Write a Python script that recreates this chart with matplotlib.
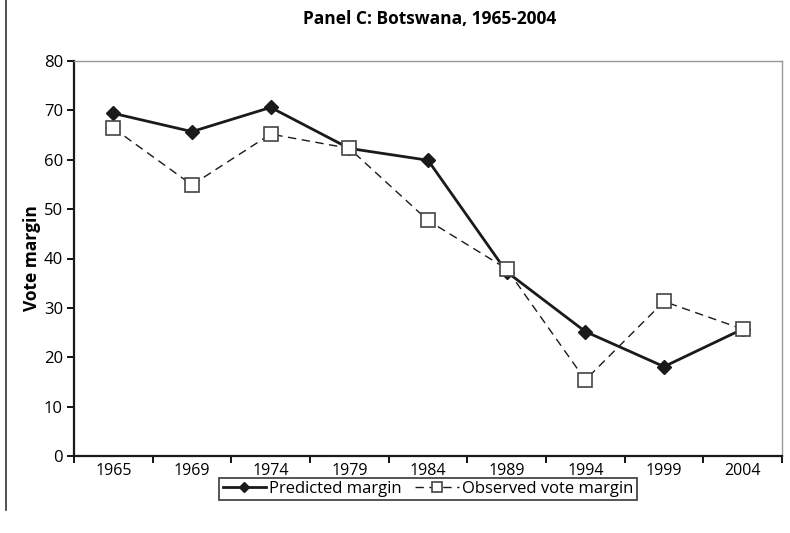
import numpy as np
import matplotlib
matplotlib.use("Agg")
import matplotlib.pyplot as plt
from matplotlib.lines import Line2D

years = ["1965", "1969", "1974", "1979", "1984", "1989", "1994", "1999", "2004"]
predicted = [69.4, 65.7, 70.6, 62.3, 59.9, 37.3, 25.2, 18.1, 25.7]
observed = [66.4, 54.9, 65.2, 62.3, 47.7, 37.9, 15.4, 31.3, 25.7]
yticks = [0, 10, 20, 30, 40, 50, 60, 70, 80]

plt.rcParams['font.family'] = ['Open Sans', 'DejaVu Sans']

fig = plt.figure(figsize=(7.9, 5.33), dpi=100)
ax = fig.add_axes([74 / 790, 77 / 533, 708 / 790, 395 / 533])

x = np.arange(len(years))
ax.plot(x, predicted, color="#1a1a1a", lw=2, marker="D", ms=7,
        mfc="#1a1a1a", mec="#1a1a1a", label="Predicted margin", zorder=3)
ax.plot(x, observed, color="#1a1a1a", lw=1, ls=(0, (6, 4)), marker="s", ms=10,
        mfc="white", mec="#444444", mew=1.2, label="Observed vote margin", zorder=4)

ax.set_xlim(-0.5, len(years) - 0.5)
ax.set_ylim(0, 80)
ax.set_yticks(yticks)
ax.set_xticks(x)
ax.set_xticklabels(years)
ax.set_xticks(np.arange(-0.5, len(years)), minor=True)
ax.tick_params(axis="x", which="major", length=0, labelsize=11.5, pad=5)
ax.tick_params(axis="x", which="minor", length=5, width=1.3, direction="out")
ax.tick_params(axis="y", length=5, width=1.3, direction="out", labelsize=12, pad=3)

for s in ["left", "bottom"]:
    ax.spines[s].set_linewidth(1.6)
    ax.spines[s].set_color("#1a1a1a")
for s in ["top", "right"]:
    ax.spines[s].set_linewidth(1)
    ax.spines[s].set_color("#999999")

ax.set_ylabel("Vote margin", fontsize=12.5, fontweight="bold", labelpad=2)
fig.text(430 / 790, 1 - 19 / 533, "Panel C: Botswana, 1965-2004",
         ha="center", va="center", fontsize=12.5, fontweight="bold")

leg = ax.legend(loc="center", bbox_to_anchor=(428 / 790, 1 - 489 / 533),
                bbox_transform=fig.transFigure, ncol=2, frameon=True,
                fancybox=False, fontsize=12, handlelength=2.6,
                columnspacing=0.8, handletextpad=0.2, borderpad=0.2,
                markerscale=0.7)
leg.get_frame().set_edgecolor("#1a1a1a")
leg.get_frame().set_linewidth(1.3)

# left margin rule
fig.add_artist(Line2D([6 / 790, 6 / 790], [1, 1 - 510 / 533],
                      transform=fig.transFigure, color="#333333", lw=1.2))

fig.savefig("out.png", dpi=100)
